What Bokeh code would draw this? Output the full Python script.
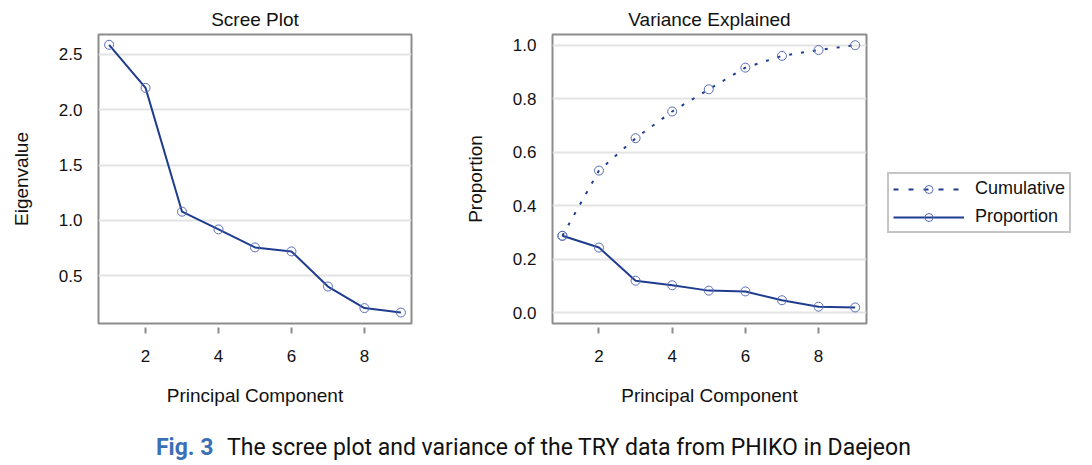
from bokeh.plotting import figure
from bokeh.layouts import column, row
from bokeh.models import Legend, LegendItem, FixedTicker, NumeralTickFormatter, Range1d, Div
from bokeh.embed import file_html
from bokeh.resources import INLINE

# ---- data ----
components = [1, 2, 3, 4, 5, 6, 7, 8, 9]
eigenvalues = [2.586, 2.197, 1.079, 0.919, 0.756, 0.72, 0.403, 0.208, 0.168]
proportion = [0.287, 0.243, 0.119, 0.102, 0.082, 0.079, 0.046, 0.022, 0.019]
cumulative = [0.287, 0.531, 0.652, 0.752, 0.835, 0.916, 0.960, 0.982, 1.0]
x_ticks = [2, 4, 6, 8]
eig_ticks = [0.5, 1.0, 1.5, 2.0, 2.5]
prop_ticks = [0.0, 0.2, 0.4, 0.6, 0.8, 1.0]
caption_label = "Fig. 3"
caption_text = "The scree plot and variance of the TRY data from PHIKO in Daejeon"

LINE = "#1f3d8f"
MARK = "#5a6eb8"
FRAME = "#8c8c8c"
GRID = "#e3e3e3"
FONT = "Liberation Sans"


def style(p, ylabel, yticks):
    p.title.text_font = FONT
    p.title.text_font_size = "19px"
    p.title.text_font_style = "normal"
    p.title.align = "center"
    p.title.text_color = "#111111"
    p.outline_line_color = FRAME
    p.outline_line_width = 2
    p.xgrid.visible = False
    p.ygrid.grid_line_color = GRID
    p.ygrid.grid_line_width = 2
    p.ygrid.ticker = FixedTicker(ticks=yticks)
    xa = p.xaxis[0]
    xa.ticker = FixedTicker(ticks=x_ticks)
    xa.axis_line_color = None
    xa.major_tick_in = -4
    xa.major_tick_out = 10
    xa.major_tick_line_color = FRAME
    xa.major_tick_line_width = 2
    xa.minor_tick_line_color = None
    xa.major_label_standoff = 16
    xa.major_label_text_font = FONT
    xa.major_label_text_font_size = "17px"
    xa.major_label_text_color = "#111111"
    xa.axis_label = "Principal Component"
    xa.axis_label_text_font = FONT
    xa.axis_label_text_font_size = "19px"
    xa.axis_label_text_font_style = "normal"
    xa.axis_label_text_color = "#111111"
    xa.axis_label_standoff = 20
    ya = p.yaxis[0]
    ya.ticker = FixedTicker(ticks=yticks)
    ya.formatter = NumeralTickFormatter(format="0.0")
    ya.axis_line_color = None
    ya.major_tick_in = 0
    ya.major_tick_out = 0
    ya.minor_tick_line_color = None
    ya.major_label_standoff = 16
    ya.major_label_text_font = FONT
    ya.major_label_text_font_size = "17px"
    ya.major_label_text_color = "#111111"
    ya.axis_label = ylabel
    ya.axis_label_text_font = FONT
    ya.axis_label_text_font_size = "19px"
    ya.axis_label_text_font_style = "normal"
    ya.axis_label_text_color = "#111111"
    ya.axis_label_standoff = 24


H = 410
TOP = 34
BOTTOM = 87
p1 = figure(width=440, height=H, title="Scree Plot", output_backend="svg", toolbar_location=None,
            x_range=Range1d(0.71, 9.29), y_range=Range1d(0.069, 2.679),
            min_border_left=98, min_border_right=29, min_border_top=TOP, min_border_bottom=BOTTOM)
style(p1, "Eigenvalue", eig_ticks)
p1.line(components, eigenvalues, line_color=LINE, line_width=2)
p1.scatter(components, eigenvalues, marker="circle", size=9, fill_color=None, line_color=MARK, line_width=1)

p2 = figure(width=436, height=H, title="Variance Explained", output_backend="svg", toolbar_location=None,
            x_range=Range1d(0.73, 9.31), y_range=Range1d(-0.041, 1.04),
            min_border_left=112, min_border_right=10, min_border_top=TOP, min_border_bottom=BOTTOM)
style(p2, "Proportion", prop_ticks)
p2.line(components, cumulative, line_color=LINE, line_width=2, line_dash="3 9")
p2.scatter(components, cumulative, marker="circle", size=9, fill_color=None, line_color=MARK, line_width=1)
p2.line(components, proportion, line_color=LINE, line_width=2)
p2.scatter(components, proportion, marker="circle", size=9, fill_color=None, line_color=MARK, line_width=1)

# legend panel (its renderers reuse the same series, kept out of view)
p3 = figure(width=200, height=H, output_backend="svg", toolbar_location=None,
            x_axis_type=None, y_axis_type=None, x_range=Range1d(100, 101), y_range=Range1d(100, 101),
            min_border_left=0, min_border_right=0, min_border_top=TOP, min_border_bottom=BOTTOM,
            outline_line_color=None)
p3.xgrid.visible = False
p3.ygrid.visible = False
lc = p3.line(components, cumulative, line_color=LINE, line_width=2, line_dash="5 10")
sc = p3.scatter(components, cumulative, marker="circle", size=9, fill_color=None, line_color=MARK, line_width=1)
lp = p3.line(components, proportion, line_color=LINE, line_width=2)
sp = p3.scatter(components, proportion, marker="circle", size=9, fill_color=None, line_color=MARK, line_width=1)
leg = Legend(items=[LegendItem(label="Cumulative", renderers=[lc, sc]),
                    LegendItem(label="Proportion", renderers=[lp, sp])],
             location=(11, 90))
leg.border_line_color = FRAME
leg.border_line_width = 2
leg.background_fill_color = "white"
leg.label_text_font = FONT
leg.label_text_font_size = "18px"
leg.label_text_color = "#111111"
leg.glyph_width = 71
leg.glyph_height = 20
leg.label_height = 20
leg.label_standoff = 11
leg.padding = 4
leg.spacing = 7
leg.margin = 0
p3.add_layout(leg, "center")

# caption
caption = Div(
    text=('<div style="font-family:Roboto,\'Noto Sans\',sans-serif;font-size:23px;line-height:26px;'
          'padding:25px 0 0 156px;color:#111111;white-space:nowrap">'
          '<span style="display:inline-block;width:71px;color:#3b6fb6;font-weight:bold">'
          + caption_label + '</span>' + caption_text + '</div>'),
    width=1076, height=52, margin=0)

layout = column(row(p1, p2, p3), caption)
open("out.html", "w").write(file_html(layout, INLINE))
